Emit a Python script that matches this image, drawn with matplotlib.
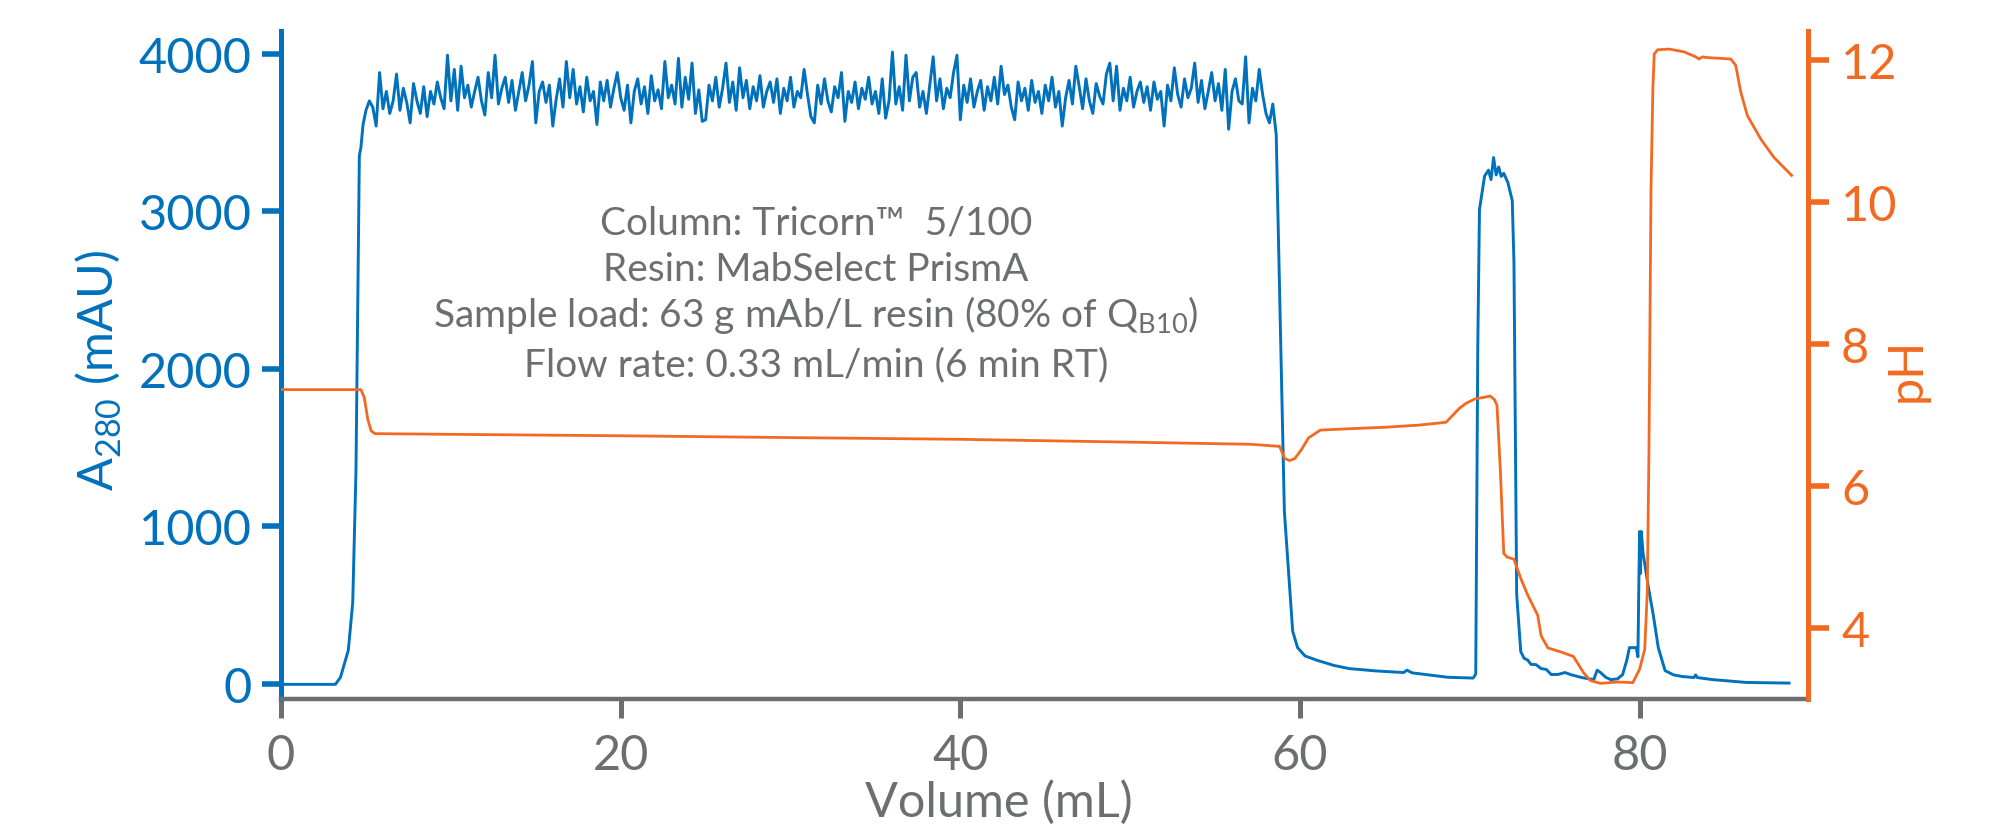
import numpy as np
import matplotlib
matplotlib.use("Agg")
import matplotlib.pyplot as plt

BLUE = "#0071bc"
ORANGE = "#f26a21"
GRAY = "#6d6e71"

# A280 (mAU): breakthrough front
front_vol = [0.0, 3.2, 3.5, 3.96, 4.22, 4.41, 4.61, 4.70, 4.83]
front_mau = [-5, -5, 40, 212, 514, 1348, 3353, 3403, 3551]

# A280 plateau during load, read every 0.2 mL from 5.0 mL
plateau_start = 5.0
plateau_step = 0.2
plateau_mau = [
    3640, 3700, 3660, 3540, 3880, 3650, 3760, 3620, 3700, 3870,
    3640, 3780, 3690, 3560, 3810, 3700, 3620, 3790, 3600, 3760,
    3680, 3820, 3720, 3650, 3990, 3700, 3900, 3640, 3920, 3720,
    3800, 3660, 3760, 3850, 3700, 3610, 3880, 3720, 3990, 3680,
    3780, 3850, 3690, 3830, 3640, 3760, 3880, 3700, 3800, 3950,
    3560, 3760, 3820, 3690, 3800, 3540, 3710, 3840, 3660, 3950,
    3720, 3900, 3680, 3790, 3630, 3850, 3700, 3760, 3550, 3820,
    3700, 3830, 3660, 3780, 3880, 3720, 3640, 3800, 3560, 3760,
    3840, 3680, 3790, 3620, 3860, 3700, 3770, 3650, 3950, 3720,
    3800, 3680, 3970, 3660, 3850, 3710, 3940, 3620, 3770, 3570,
    3580, 3800, 3700, 3850, 3660, 3780, 3940, 3690, 3820, 3640,
    3910, 3720, 3830, 3650, 3790, 3700, 3860, 3660, 3760, 3820,
    3690, 3840, 3620, 3780, 3700, 3850, 3660, 3760, 3720, 3900,
    3740, 3600, 3560, 3800, 3680, 3840, 3700, 3630, 3790, 3720,
    3880, 3570, 3760, 3690, 3820, 3650, 3780, 3710, 3850, 3680,
    3760, 3620, 3840, 3590, 3700, 4010, 3680, 3790, 3640, 3990,
    3700, 3850, 3880, 3660, 3760, 3620, 3800, 3980, 3700, 3840,
    3650, 3780, 3720, 3880, 3990, 3580, 3800, 3690, 3840, 3660,
    3760, 3830, 3640, 3790, 3700, 3850, 3680, 3920, 3740, 3800,
    3660, 3580, 3820, 3700, 3780, 3640, 3830, 3690, 3760, 3620,
    3800, 3700, 3850, 3660, 3760, 3540, 3720, 3830, 3680, 3920,
    3790, 3650, 3840, 3700, 3620, 3810, 3730, 3680, 3870, 3940,
    3700, 3920, 3640, 3780, 3700, 3850, 3660, 3760, 3820, 3690,
    3790, 3640, 3820, 3710, 3760, 3540, 3800, 3700, 3910, 3740,
    3660, 3840, 3720, 3780, 3940, 3690, 3830, 3650, 3760, 3880,
    3700, 3810, 3640, 3900, 3520, 3760, 3840, 3700, 3680, 3980,
    3560, 3780, 3700, 3900, 3740, 3620, 3560, 3680,
]

# A280 after load: wash, elution peak, CIP
tail_vol = [58.6, 59.08, 59.57, 59.86, 60.3, 61.0, 62.0, 62.9, 64.5, 66.1, 66.3, 66.6,
            68.7, 70.2, 70.35, 70.47, 70.57, 70.87, 71.1, 71.25, 71.4, 71.55, 71.7,
            71.85, 72.0, 72.24, 72.5, 72.6, 72.76, 73.0, 73.2, 73.4, 73.6, 73.9, 74.2,
            74.5, 74.8, 75.2, 75.6, 76.0, 76.6, 77.3, 77.5, 77.7, 78.0, 78.3, 78.7,
            79.0, 79.25, 79.4, 79.8, 79.9, 79.95, 80.0, 80.05, 80.1, 80.2, 80.5, 80.8,
            81.1, 81.5, 82.0, 82.5, 83.2, 83.3, 83.4, 84.3, 86.3, 88.8]
tail_mau = [3485, 1094, 332, 228, 175, 148, 115, 95, 80, 70, 85, 68,
            40, 35, 60, 2146, 3011, 3222, 3260, 3200, 3340, 3230, 3280,
            3220, 3240, 3182, 3067, 2673, 568, 203, 160, 150, 122, 120, 95,
            90, 57, 58, 70, 55, 38, 25, 85, 70, 40, 25, 30,
            57, 150, 228, 228, 170, 600, 965, 700, 965, 832, 622, 438,
            228, 82, 55, 45, 38, 55, 38, 25, 7, 3]

# pH trace
ph_vol = [0.0, 4.7, 4.9, 5.1, 5.3, 5.52, 10.0, 20.0, 27.7, 40.0, 50.0, 57.1, 58.8,
          59.1, 59.4, 59.7, 60.1, 60.5, 61.2, 63.0, 65.0, 67.0, 68.6, 69.0, 69.4,
          69.8, 70.3, 70.8, 71.2, 71.45, 71.6, 71.8, 72.0, 72.2, 72.6, 73.0, 73.4,
          74.0, 74.2, 74.6, 75.4, 76.1, 76.7, 77.1, 77.7, 78.7, 79.6, 80.0, 80.3,
          80.45, 80.55, 80.67, 80.78, 80.86, 81.06, 81.74, 82.63, 83.31, 83.5, 83.7,
          84.0, 85.37, 85.66, 85.96, 86.35, 87.14, 87.92, 88.95]
ph_val = [7.36, 7.36, 7.25, 6.95, 6.78, 6.74, 6.73, 6.71, 6.69, 6.66, 6.62, 6.59, 6.56,
          6.39, 6.36, 6.39, 6.52, 6.68, 6.79, 6.81, 6.83, 6.86, 6.90, 7.00, 7.10,
          7.17, 7.23, 7.25, 7.27, 7.22, 7.14, 6.22, 5.05, 5.00, 4.97, 4.70, 4.47,
          4.18, 3.89, 3.72, 3.66, 3.60, 3.37, 3.26, 3.22, 3.24, 3.23, 3.42, 3.70,
          4.50, 6.50, 10.18, 11.60, 12.09, 12.15, 12.16, 12.12, 12.05, 12.02, 12.05,
          12.04, 12.02, 11.93, 11.55, 11.22, 10.89, 10.63, 10.38]

x_ticks = [0, 20, 40, 60, 80]
a280_ticks = [0, 1000, 2000, 3000, 4000]
ph_ticks = [4, 6, 8, 10, 12]

annotation = [
    "Column: Tricorn\u2122  5/100",
    "Resin: MabSelect PrismA",
    "Sample load: 63 g mAb/L resin (80% of Q$_{\\mathregular{B10}}$)",
    "Flow rate: 0.33 mL/min (6 min RT)",
]

plt.rcParams['font.family'] = ['Lato', 'DejaVu Sans']
plt.rcParams['mathtext.fontset'] = 'custom'
plt.rcParams['mathtext.rm'] = 'Lato'

plateau_vol = plateau_start + plateau_step * np.arange(len(plateau_mau))
vol = np.concatenate([front_vol, plateau_vol, tail_vol])
mau = np.concatenate([front_mau, plateau_mau, tail_mau])

fig = plt.figure(figsize=(19.92, 8.28), dpi=100)
ax = fig.add_axes([0.1411, 0.1546, 0.7664, 0.8072])
ax2 = ax.twinx()

ax.plot(vol, mau, color=BLUE, lw=2.1)
ax2.plot(ph_vol, ph_val, color=ORANGE, lw=2.0)

ax.set_xlim(0, 89.9)
ax.set_ylim(-98, 4146)
ax2.set_ylim(3.0, 12.42)
ax.set_xticks(x_ticks)
ax.set_yticks(a280_ticks)
ax2.set_yticks(ph_ticks)

for s in ['top', 'right']:
    ax.spines[s].set_visible(False)
for s in ['top', 'left', 'bottom']:
    ax2.spines[s].set_visible(False)
ax.spines['left'].set_color(BLUE)
ax.spines['left'].set_linewidth(3.6)
ax.spines['bottom'].set_color(GRAY)
ax.spines['bottom'].set_linewidth(3.2)
ax2.spines['right'].set_color(ORANGE)
ax2.spines['right'].set_linewidth(3.6)

ax.tick_params(axis='y', colors=BLUE, labelsize=35, length=14, width=4, pad=7)
ax.tick_params(axis='x', colors=GRAY, labelsize=35, length=13.5, width=3.6, pad=11)
ax2.tick_params(axis='y', colors=ORANGE, labelsize=35, length=15, width=4, pad=9)

fig.text(98.5 / 1992, 1 - 371 / 828, "A$_{\\mathregular{280}}$ (mAU)", rotation=90,
         ha='center', va='center', color=BLUE, fontsize=35)
fig.text(1907 / 1992, 1 - 370 / 828, "pH", rotation=90,
         ha='center', va='center', color=ORANGE, fontsize=35)
fig.text(999 / 1992, 3 / 828, "Volume (mL)", ha='center', va='bottom',
         color=GRAY, fontsize=35)

baselines = [235, 281, 327, 376.7]
for line, yb in zip(annotation, baselines):
    fig.text(816 / 1992, 1 - yb / 828, line, ha='center', va='baseline',
             color=GRAY, fontsize=28)

fig.savefig("out.png", dpi=100)
